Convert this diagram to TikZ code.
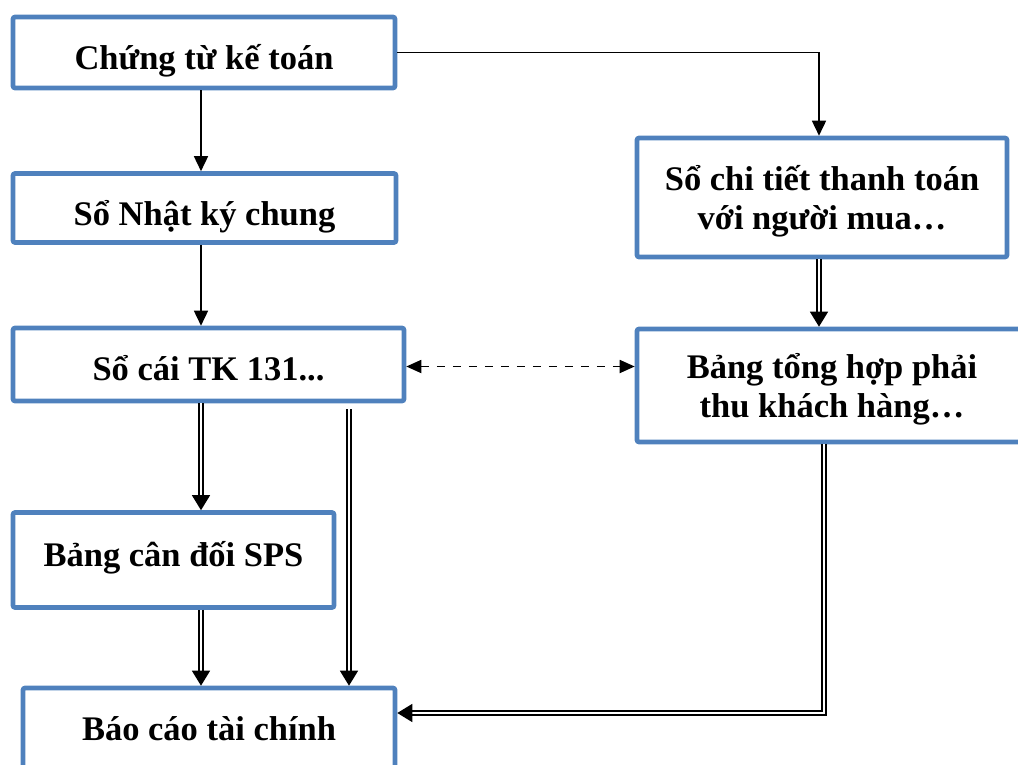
\documentclass[tikz,border=0pt]{standalone}
\usepackage{fontspec}
\setmainfont{Liberation Serif}
\usetikzlibrary{arrows.meta}
\definecolor{boxblue}{RGB}{79,129,189}

\begin{document}
\begin{tikzpicture}[x = 0.5pt, y = -0.5pt,
box/.style = {draw = boxblue, line width = 2.3pt, shape = rectangle, rounded corners = 1pt, inner sep = 0pt, align = center, text depth = 0pt, font = \bfseries\fontsize{17.25}{19.2}\selectfont},
sink/.style = {text height = #1},
link/.style = {line width = 0.8pt, -{Triangle[length = 7.5pt, width = 7pt]}},
dlink/.style = {double, double distance = 1.2pt, line width = 0.7pt, -{Triangle[length = 7.5pt, width = 9pt]}}]
\clip (0,0) rectangle (1018,765);
\node[box, sink = 17pt, minimum width = 191pt, minimum height = 35.5pt] (1) at (204,52.5) {Chứng từ kế toán};
\node[box, sink = 18pt, minimum width = 191.5pt, minimum height = 34.5pt] (2) at (204.5,208) {Sổ Nhật ký chung};
\node[box, sink = 16pt, minimum width = 195.5pt, minimum height = 36.5pt] (3) at (208.5,364.5) {Sổ cái TK 131...};
\node[box, sink = 6.7pt, minimum width = 160.5pt, minimum height = 47.5pt] (4) at (173.5,560) {Bảng cân đối SPS};
\node[box, sink = 11pt, minimum width = 186pt, minimum height = 41pt] (5) at (209,729) {Báo cáo tài chính};
\node[box, sink = 31.5pt, minimum width = 185pt, minimum height = 59.5pt] (6) at (822,197.5) {Sổ chi tiết thanh toán\\với người mua…};
\node[box, sink = 31.5pt, minimum width = 195pt, minimum height = 56.5pt] (7) at (832,385.5) {Bảng tổng hợp phải\\thu khách hàng…};
\coordinate (colL) at (201,0);
\coordinate (colM) at (349,0);
\coordinate (colR) at (824,0);
\coordinate (colS) at (819,0);
\draw[link] (colL |- 1.south) -- (colL |- 2.north);
\draw[link] (colL |- 2.south) -- (colL |- 3.north);
\draw[link] (1.east) -| (colS |- 6.north);
\draw[dlink] (colS |- 6.south) -- (colS |- 7.north);
\draw[dashed, dash pattern = on 4pt off 4pt, line width = 0.9pt, {Triangle[length = 7.5pt, width = 6.5pt]}-{Triangle[length = 7.5pt, width = 6.5pt]}] ([yshift = -1pt]3.east) -- ([yshift = -1pt]3.east -| 7.west);
\draw[dlink] (colL |- 3.south) -- (colL |- 4.north);
\draw[dlink, shorten <= 3pt] (colM |- 3.south) -- (colM |- 5.north);
\draw[dlink] (colL |- 4.south) -- (colL |- 5.north);
\draw[dlink] (colR |- 7.south) |- ([yshift = 8pt]5.east);
\end{tikzpicture}
\end{document}
